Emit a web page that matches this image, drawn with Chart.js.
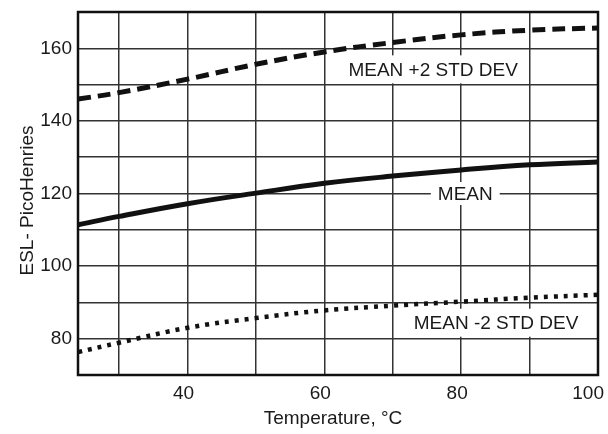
<!DOCTYPE html>
<html>
<head>
<meta charset="utf-8">
<script src="https://cdn.jsdelivr.net/npm/chart.js@4/dist/chart.umd.min.js"></script>
<style>
html,body{margin:0;padding:0;background:#fff;}
#wrap{width:608px;height:434px;position:relative;}
</style>
</head>
<body>
<div id="wrap"><canvas id="c" width="608" height="434"></canvas></div>
<script>
// Data
const temps  = [24, 30, 40, 50, 60, 70, 80, 90, 100];
const mean   = [111.4, 113.7, 117.2, 120.1, 122.8, 124.8, 126.5, 127.9, 128.7];
const plus2  = [146.0, 147.8, 151.5, 155.6, 159.0, 161.6, 163.7, 165.0, 165.6];
const minus2 = [76.3, 78.9, 83.0, 85.7, 87.8, 89.1, 90.2, 91.3, 92.1];

const xGrid = [30, 40, 50, 60, 70, 80, 90, 100];
const xLabels = [40, 60, 80, 100];
const yLabels = [80, 100, 120, 140, 160];

const xTitle = 'Temperature, °C';
const yTitle = 'ESL- PicoHenries';

// annotation labels: text and anchor in data units
const notes = [
  {text: 'MEAN +2 STD DEV', x: 75.9, y: 154.2},
  {text: 'MEAN', x: 80.6, y: 120.0},
  {text: 'MEAN -2 STD DEV', x: 85.1, y: 84.4}
];

const FONT = '"Liberation Sans", Arial, Helvetica, sans-serif';
const toXY = arr => temps.map((t, i) => ({x: t, y: arr[i]}));

const labelPlugin = {
  id: 'labels',
  beforeDatasetsDraw(chart) {
    const ctx = chart.ctx, xs = chart.scales.x, ys = chart.scales.y;
    ctx.save();
    ctx.font = '19px ' + FONT;
    notes.forEach(n => {
      const px = xs.getPixelForValue(n.x), py = ys.getPixelForValue(n.y);
      const w = ctx.measureText(n.text).width + 14;
      const h = n.text === 'MEAN' ? 23 : 28;
      ctx.fillStyle = '#fff';
      ctx.fillRect(px - w / 2, py - h / 2, w, h);
    });
    ctx.restore();
  },
  afterDatasetsDraw(chart) {
    const ctx = chart.ctx, xs = chart.scales.x, ys = chart.scales.y, a = chart.chartArea;
    const W = chart.width;
    ctx.save();
    ctx.font = '19px ' + FONT;
    ctx.fillStyle = '#1a1a1a';
    ctx.textAlign = 'center';
    ctx.textBaseline = 'middle';
    notes.forEach(n => {
      ctx.fillText(n.text, xs.getPixelForValue(n.x), ys.getPixelForValue(n.y) + 1);
    });
    // x tick labels (kept inside the canvas)
    xLabels.forEach(v => {
      const s = String(v);
      const half = ctx.measureText(s).width / 2;
      let cx = xs.getPixelForValue(v) - 4;
      if (cx + half > W - 4) cx = W - 4 - half;
      ctx.fillText(s, cx, 394);
    });
    // frame
    ctx.strokeStyle = '#111';
    ctx.lineWidth = 2.5;
    ctx.strokeRect(a.left, a.top, a.right - a.left, a.bottom - a.top);
    // axis titles
    ctx.fillText(xTitle, (a.left + a.right) / 2 - 5, 419);
    ctx.translate(28, (a.top + a.bottom) / 2 + 7);
    ctx.rotate(-Math.PI / 2);
    ctx.fillText(yTitle, 0, 0);
    ctx.restore();
  }
};

new Chart(document.getElementById('c'), {
  type: 'line',
  data: {
    datasets: [
      {data: toXY(plus2), borderColor: '#111', borderWidth: 5, borderDash: [13, 7], pointRadius: 0, tension: 0.4, fill: false},
      {data: toXY(mean), borderColor: '#111', borderWidth: 5, pointRadius: 0, tension: 0.4, fill: false},
      {data: toXY(minus2), borderColor: '#111', borderWidth: 4.5, borderDash: [4, 6], pointRadius: 0, tension: 0.4, fill: false}
    ]
  },
  options: {
    responsive: false,
    animation: false,
    devicePixelRatio: 1,
    layout: {padding: {left: 0, right: 10, top: 12, bottom: 0}},
    plugins: {legend: {display: false}, tooltip: {enabled: false}},
    scales: {
      x: {
        type: 'linear', min: 24, max: 100,
        afterBuildTicks: s => { s.ticks = xGrid.map(v => ({value: v})); },
        afterFit: s => { s.height = 59; s.paddingLeft = 0; s.paddingRight = 0; },
        grid: {color: '#333', lineWidth: 1.5, drawTicks: false},
        border: {display: false},
        ticks: {display: false}
      },
      y: {
        type: 'linear', min: 70, max: 170,
        afterBuildTicks: s => { const t = []; for (let v = 70; v <= 170; v += 10) t.push({value: v}); s.ticks = t; },
        afterFit: s => { s.width = 78; s.paddingTop = 0; s.paddingBottom = 0; },
        grid: {color: '#333', lineWidth: 1.5, drawTicks: false},
        border: {display: false},
        ticks: {
          autoSkip: false, padding: 6, color: '#1a1a1a',
          font: {family: FONT, size: 19},
          callback: v => yLabels.includes(v) ? String(v) : ''
        }
      }
    }
  },
  plugins: [labelPlugin]
});
</script>
</body>
</html>
